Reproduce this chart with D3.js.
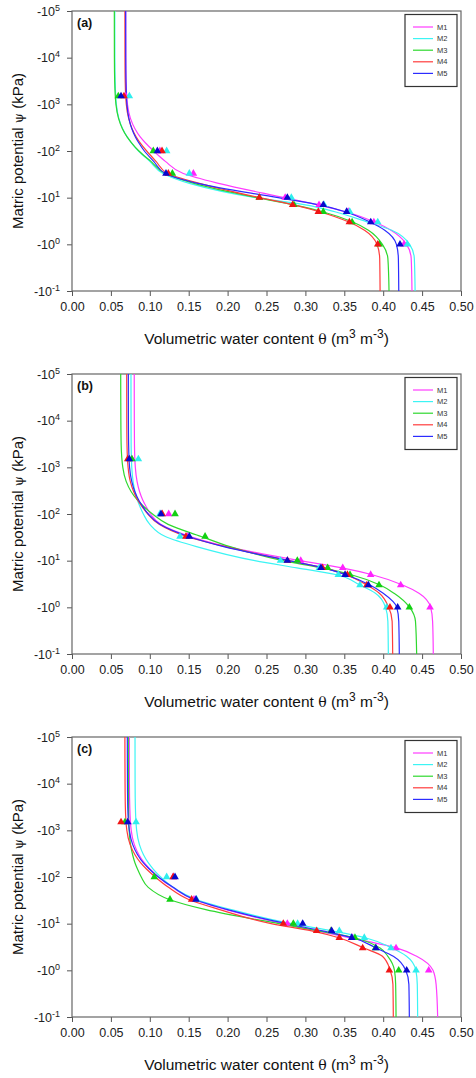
<!DOCTYPE html>
<html>
<head>
<meta charset="utf-8">
<script src="https://cdn.jsdelivr.net/npm/d3@7"></script>
<style>
  body { margin: 0; background: #fff; }
  svg text { font-family: "Liberation Sans", Arial, sans-serif; }
</style>
</head>
<body>
<svg id="chart" width="476" height="1078"></svg>
<script>
// matric potential levels (kPa, magnitude) at which the fitted curves were read
var psiLevels = [0.1, 0.5, 1, 2, 3, 5, 7, 10, 20, 33, 60, 100, 150, 200, 300, 500, 1000, 3000, 10000, 100000];
// measured pressure steps (triangles)
var obsPsi = [1, 3, 5, 7, 10, 33, 100, 1500];

var seriesNames = ["M1", "M2", "M3", "M4", "M5"];
var panelLabels = ["(a)", "(b)", "(c)"];
var xTicks = [0, 0.05, 0.10, 0.15, 0.20, 0.25, 0.30, 0.35, 0.40, 0.45, 0.50];
var yTickExponents = [-1, 0, 1, 2, 3, 4, 5];

// fitted curves, theta per psiLevels, one row per series M1..M5
var curveA = [
  [0.437, 0.436, 0.430, 0.410, 0.389, 0.352, 0.316, 0.273, 0.190, 0.143, 0.120, 0.105, 0.0942, 0.0877, 0.0809, 0.0751, 0.0713, 0.0695, 0.0691, 0.069],
  [0.441, 0.440, 0.434, 0.411, 0.380, 0.338, 0.300, 0.236, 0.152, 0.117, 0.100, 0.0855, 0.0764, 0.0709, 0.0651, 0.0602, 0.057, 0.0555, 0.0551, 0.055],
  [0.4075, 0.406, 0.399, 0.381, 0.361, 0.322, 0.285, 0.238, 0.158, 0.120, 0.1015, 0.086, 0.0765, 0.0708, 0.0648, 0.0598, 0.0565, 0.0549, 0.0545, 0.0544],
  [0.396, 0.3955, 0.392, 0.376, 0.356, 0.318, 0.285, 0.241, 0.165, 0.123, 0.108, 0.096, 0.0876, 0.0826, 0.0772, 0.0728, 0.0698, 0.0684, 0.0681, 0.068],
  [0.420, 0.4195, 0.417, 0.402, 0.383, 0.351, 0.318, 0.265, 0.163, 0.120, 0.105, 0.093, 0.0858, 0.0815, 0.0769, 0.0731, 0.0706, 0.0694, 0.0691, 0.069]
];
var curveB = [
  [0.4644, 0.4635, 0.461, 0.446, 0.425, 0.386, 0.347, 0.293, 0.200, 0.152, 0.114, 0.101, 0.0947, 0.0909, 0.0869, 0.0836, 0.0814, 0.0803, 0.0801, 0.080],
  [0.4066, 0.406, 0.403, 0.390, 0.370, 0.340, 0.289, 0.235, 0.160, 0.120, 0.100, 0.0917, 0.0869, 0.0841, 0.0810, 0.0785, 0.0768, 0.076, 0.0759, 0.0758],
  [0.443, 0.4415, 0.434, 0.414, 0.396, 0.359, 0.321, 0.271, 0.203, 0.166, 0.1235, 0.1035, 0.0912, 0.0839, 0.0761, 0.0696, 0.0653, 0.0632, 0.0628, 0.0626],
  [0.4122, 0.4115, 0.407, 0.395, 0.379, 0.352, 0.324, 0.279, 0.197, 0.147, 0.112, 0.0975, 0.0893, 0.0844, 0.0793, 0.0749, 0.0721, 0.0707, 0.0704, 0.0703],
  [0.4207, 0.420, 0.4175, 0.400, 0.383, 0.352, 0.323, 0.279, 0.195, 0.1495, 0.113, 0.098, 0.0903, 0.0857, 0.0808, 0.0768, 0.074, 0.0728, 0.0725, 0.0724]
];
var curveC = [
  [0.470, 0.468, 0.464, 0.443, 0.418, 0.356, 0.315, 0.271, 0.198, 0.157, 0.129, 0.111, 0.0998, 0.0931, 0.086, 0.0800, 0.0761, 0.0743, 0.0738, 0.0737],
  [0.4443, 0.4438, 0.442, 0.430, 0.411, 0.377, 0.334, 0.282, 0.205, 0.160, 0.130, 0.114, 0.1041, 0.0982, 0.0919, 0.0866, 0.0831, 0.0815, 0.0811, 0.081],
  [0.4165, 0.416, 0.4145, 0.406, 0.396, 0.363, 0.317, 0.266, 0.172, 0.125, 0.098, 0.089, 0.084, 0.081, 0.0779, 0.0752, 0.0735, 0.0726, 0.0725, 0.0724],
  [0.413, 0.4125, 0.409, 0.399, 0.375, 0.343, 0.308, 0.256, 0.190, 0.150, 0.124, 0.107, 0.0953, 0.0883, 0.0809, 0.0746, 0.0705, 0.0686, 0.0682, 0.068],
  [0.4336, 0.433, 0.429, 0.413, 0.391, 0.361, 0.322, 0.276, 0.200, 0.157, 0.130, 0.111, 0.099, 0.0918, 0.0843, 0.0779, 0.0737, 0.0717, 0.0713, 0.0711]
];

// measured theta per obsPsi
var obsA = [
  [0.4267, 0.388, 0.355, 0.3175, 0.274, 0.156, 0.113, 0.069],
  [0.431, 0.393, 0.357, 0.324, 0.2819, 0.1508, 0.1217, 0.0737],
  [0.395, 0.36, 0.323, 0.2853, 0.2408, 0.129, 0.1045, 0.0595],
  [0.393, 0.3565, 0.3166, 0.2836, 0.2408, 0.1238, 0.1157, 0.0668],
  [0.4216, 0.384, 0.353, 0.323, 0.2768, 0.1208, 0.1097, 0.063]
];
var obsB = [
  [0.4602, 0.4225, 0.3839, 0.348, 0.294, 0.1486, 0.1243, 0.077],
  [0.4045, 0.3702, 0.3423, 0.318, 0.268, 0.1388, 0.113, 0.0853],
  [0.4336, 0.3946, 0.3573, 0.3286, 0.2896, 0.171, 0.1324, 0.077],
  [0.4087, 0.379, 0.354, 0.322, 0.277, 0.1465, 0.116, 0.0716],
  [0.4186, 0.381, 0.351, 0.32, 0.2768, 0.1508, 0.1144, 0.0737]
];
var obsC = [
  [0.4585, 0.4165, 0.36, 0.333, 0.2768, 0.1568, 0.1302, 0.072],
  [0.4422, 0.41, 0.3757, 0.3436, 0.29, 0.16, 0.1217, 0.0823],
  [0.4199, 0.39, 0.3637, 0.333, 0.2845, 0.126, 0.1058, 0.0681],
  [0.4079, 0.3736, 0.3436, 0.3145, 0.2716, 0.1538, 0.13, 0.063],
  [0.4302, 0.3907, 0.3595, 0.3338, 0.2965, 0.1594, 0.1324, 0.0716]
];

var lineColors = ["#ff3cff", "#3cf4f4", "#2ed82e", "#ff3c3c", "#2c2cff"];
var markColors = ["#ff22ff", "#2eeeee", "#12d012", "#f01414", "#0808cc"];

var panelCurves = [curveA, curveB, curveC];
var panelObs = [obsA, obsB, obsC];

var svg = d3.select("#chart");
var plotLeft = 72, plotRight = 461, plotH = 280;
var panelTops = [11, 374, 737];

panelTops.forEach(function(top, pi) {
  var g = svg.append("g");

  var x = d3.scaleLinear().domain([0, 0.5]).range([plotLeft, plotRight]);
  var y = d3.scaleLog().domain([0.1, 1e5]).range([top + plotH, top]);

  // x axis
  var xAx = g.append("g")
    .attr("transform", "translate(0," + (top + plotH) + ")")
    .call(d3.axisBottom(x)
      .tickValues(xTicks)
      .tickFormat(d3.format(".2f"))
      .tickSize(5)
      .tickSizeOuter(0)
      .tickPadding(6));
  xAx.select(".domain").remove();
  xAx.selectAll("line").attr("stroke", "#555");
  xAx.selectAll("text").attr("font-size", "12.5px").attr("fill", "#222")
    .attr("font-family", "Liberation Sans, Arial, sans-serif");

  // y axis, labels written by hand to get -10^n
  var yAx = g.append("g")
    .attr("transform", "translate(" + plotLeft + ",0)")
    .call(d3.axisLeft(y)
      .tickValues(yTickExponents.map(function(e) { return Math.pow(10, e); }))
      .tickFormat("")
      .tickSize(5)
      .tickSizeOuter(0));
  yAx.select(".domain").remove();
  yAx.selectAll("line").attr("stroke", "#555");

  yTickExponents.forEach(function(e) {
    var t = g.append("text")
      .attr("x", 60)
      .attr("y", y(Math.pow(10, e)))
      .attr("dy", "0.36em")
      .attr("text-anchor", "end")
      .attr("font-size", "12.5px")
      .attr("fill", "#222");
    t.append("tspan").text("-10");
    t.append("tspan").attr("dy", "-5").attr("font-size", "9px").text(e);
  });

  // frame
  g.append("rect")
    .attr("x", plotLeft).attr("y", top)
    .attr("width", plotRight - plotLeft).attr("height", plotH)
    .attr("fill", "none").attr("stroke", "#666").attr("stroke-width", 1.2);

  // fitted curves
  var line = d3.line()
    .x(function(d) { return x(d[1]); })
    .y(function(d) { return y(d[0]); })
    .curve(d3.curveMonotoneY);

  panelCurves[pi].forEach(function(vals, si) {
    g.append("path")
      .datum(psiLevels.map(function(p, k) { return [p, vals[k]]; }))
      .attr("d", line)
      .attr("fill", "none")
      .attr("stroke", lineColors[si])
      .attr("stroke-width", 1.2);
  });

  // measured points
  var tri = d3.symbol().type(d3.symbolTriangle).size(25);
  panelObs[pi].forEach(function(vals, si) {
    g.selectAll(".pt" + si)
      .data(obsPsi.map(function(p, k) { return [p, vals[k]]; }))
      .enter()
      .append("path")
      .attr("class", "pt" + si)
      .attr("d", tri)
      .attr("transform", function(d) { return "translate(" + x(d[1]) + "," + y(d[0]) + ")"; })
      .attr("fill", markColors[si]);
  });

  // panel label
  g.append("text")
    .attr("x", 77).attr("y", top + 15.5)
    .attr("font-size", "12.5px").attr("font-weight", "bold").attr("fill", "#111")
    .text(panelLabels[pi]);

  // legend
  var lx = 405, ly = top + 3.5;
  g.append("rect")
    .attr("x", lx).attr("y", ly).attr("width", 52).attr("height", 72)
    .attr("fill", "#fff").attr("stroke", "#333").attr("stroke-width", 1.2);
  seriesNames.forEach(function(name, si) {
    var yy = ly + 12.5 + si * 11.6;
    g.append("line")
      .attr("x1", lx + 8).attr("x2", lx + 28)
      .attr("y1", yy).attr("y2", yy)
      .attr("stroke", lineColors[si]).attr("stroke-width", 1.2);
    g.append("text")
      .attr("x", lx + 32).attr("y", yy).attr("dy", "0.35em")
      .attr("font-size", "7.5px").attr("fill", "#333")
      .text(name);
  });

  // axis titles
  var yt = g.append("text")
    .attr("transform", "translate(23," + (top + plotH / 2) + ") rotate(-90)")
    .attr("text-anchor", "middle")
    .attr("font-size", "15px").attr("fill", "#111");
  yt.append("tspan").text("Matric potential ");
  yt.append("tspan").attr("font-family", "DejaVu Serif, serif").attr("font-size", "13px").text("ψ");
  yt.append("tspan").text(" (kPa)");

  var xt = g.append("text")
    .attr("x", 266.5).attr("y", top + plotH + 53)
    .attr("text-anchor", "middle")
    .attr("font-size", "15.5px").attr("fill", "#111");
  xt.append("tspan").text("Volumetric water content ");
  xt.append("tspan").attr("font-family", "DejaVu Serif, serif").attr("font-size", "14px").text("θ");
  xt.append("tspan").text(" (m");
  xt.append("tspan").attr("dy", "-6").attr("font-size", "12px").text("3");
  xt.append("tspan").attr("dy", "6").text(" m");
  xt.append("tspan").attr("dy", "-6").attr("font-size", "12px").text("-3");
  xt.append("tspan").attr("dy", "6").text(")");
});
</script>
</body>
</html>
